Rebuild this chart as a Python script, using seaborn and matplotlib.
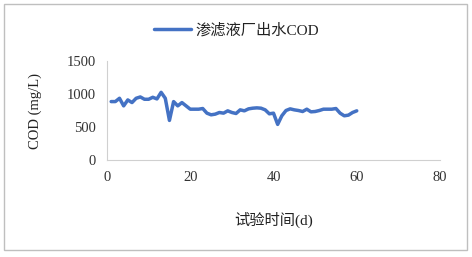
import matplotlib
matplotlib.use("Agg")
import matplotlib.pyplot as plt
import seaborn as sns
import pandas as pd
from matplotlib.patches import Rectangle

days = list(range(1, 61))
cod = [885, 885, 935, 820, 910, 870, 935, 955, 920, 920,
       950, 925, 1025, 935, 600, 885, 820, 870, 820, 770,
       770, 770, 780, 710, 685, 695, 720, 710, 745, 720,
       705, 760, 745, 775, 785, 790, 785, 760, 700, 710,
       540, 670, 750, 775, 760, 750, 735, 770, 730, 735,
       750, 770, 770, 770, 780, 710, 670, 680, 720, 745]
series_name = "渗滤液厂出水COD"
x_label = "试验时间(d)"
y_label = "COD (mg/L)"
x_ticks = [0, 20, 40, 60, 80]
y_ticks = [0, 500, 1000, 1500]

sns.set_theme(style="white")
plt.rcParams['font.family'] = ['Liberation Serif', 'Noto Sans CJK SC', 'DejaVu Sans']

df = pd.DataFrame({"day": days, "cod": cod, "series": series_name})

fig = plt.figure(figsize=(4.72, 2.57), dpi=100)
ax = fig.add_axes([0.2267, 0.377, 0.7055, 0.386])
sns.lineplot(data=df, x="day", y="cod", hue="series", palette=["#4472C4"],
             linewidth=2.5, ax=ax)

ax.set_xlim(0, 80)
ax.set_ylim(0, 1500)
ax.set_xticks(x_ticks)
ax.set_yticks(y_ticks)
ax.tick_params(axis='both', labelsize=10.5, length=0, pad=8, colors='#333333')
for s in ["top", "right"]:
    ax.spines[s].set_visible(False)
for s in ["left", "bottom"]:
    ax.spines[s].set_color("#D0D0D0")
    ax.spines[s].set_linewidth(0.8)

ax.set_xlabel(x_label, fontsize=11, color='#222222', labelpad=20)
ax.set_ylabel(y_label, fontsize=10.5, color='#222222', labelpad=18)

leg = ax.legend(loc='lower center', bbox_to_anchor=(0.39, 1.10), frameon=False,
                fontsize=11, handlelength=2.4, handletextpad=0.3)
for t in leg.get_texts():
    t.set_color('#222222')

fig.patches.append(Rectangle((4/472, 1-250/257), 463/472, 246/257,
                             transform=fig.transFigure, fill=False,
                             edgecolor='#BFBFBF', linewidth=1.0))

fig.savefig("out.png", dpi=100)
